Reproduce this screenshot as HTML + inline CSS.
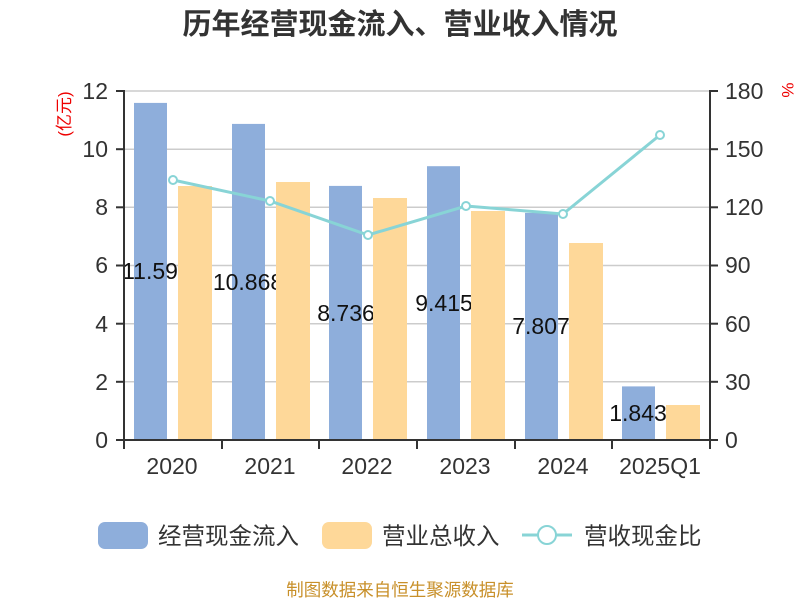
<!DOCTYPE html>
<html><head><meta charset="utf-8"><style>body{margin:0;background:#fff}svg{display:block}</style></head><body>
<svg width="800" height="600" xmlns="http://www.w3.org/2000/svg" font-family="Liberation Sans, Noto Sans CJK SC, sans-serif">
<rect width="800" height="600" fill="#fff"/>
<text x="400" y="34" text-anchor="middle" font-size="29" font-weight="bold" fill="#333">历年经营现金流入、营业收入情况</text>
<g stroke="#ccc" stroke-width="1.5">
<line x1="124" y1="91" x2="710" y2="91"/><line x1="124" y1="149.2" x2="710" y2="149.2"/><line x1="124" y1="207.3" x2="710" y2="207.3"/><line x1="124" y1="265.5" x2="710" y2="265.5"/><line x1="124" y1="323.7" x2="710" y2="323.7"/><line x1="124" y1="381.8" x2="710" y2="381.8"/>
</g>
<g fill="#8eaedb">
<rect x="134" y="102.9" width="33" height="337.1"/>
<rect x="232" y="123.9" width="33" height="316.1"/>
<rect x="329" y="185.9" width="33" height="254.1"/>
<rect x="427" y="166.2" width="33" height="273.8"/>
<rect x="525" y="212.9" width="33" height="227.1"/>
<rect x="622" y="386.4" width="33" height="53.6"/>
</g>
<g font-size="23" fill="#111" text-anchor="middle">
<text x="150" y="279">11.59</text><text x="248" y="290">10.868</text><text x="346" y="321">8.736</text><text x="444" y="311">9.415</text><text x="541" y="334">7.807</text><text x="638" y="421">1.843</text>
</g>
<g fill="#fed899">
<rect x="178" y="186" width="34" height="254"/>
<rect x="276" y="182" width="34" height="258"/>
<rect x="373" y="198" width="34" height="242"/>
<rect x="471" y="211" width="34" height="229"/>
<rect x="569" y="243" width="34" height="197"/>
<rect x="666" y="405" width="34" height="35"/>
</g>
<polyline points="173,180 270,201 368,235 466,206 563,214 660,135" fill="none" stroke="#88d4d6" stroke-width="3"/>
<g fill="#fff" stroke="#88d4d6" stroke-width="2">
<circle cx="173" cy="180" r="4"/><circle cx="270" cy="201" r="4"/><circle cx="368" cy="235" r="4"/><circle cx="466" cy="206" r="4"/><circle cx="563" cy="214" r="4"/><circle cx="660" cy="135" r="4"/>
</g>
<g stroke="#333" stroke-width="2">
<line x1="124" y1="90" x2="124" y2="440"/><line x1="710" y1="90" x2="710" y2="440"/><line x1="123" y1="440" x2="711" y2="440"/>
<line x1="116" y1="91" x2="124" y2="91"/><line x1="116" y1="149.2" x2="124" y2="149.2"/><line x1="116" y1="207.3" x2="124" y2="207.3"/><line x1="116" y1="265.5" x2="124" y2="265.5"/><line x1="116" y1="323.7" x2="124" y2="323.7"/><line x1="116" y1="381.8" x2="124" y2="381.8"/><line x1="116" y1="440" x2="124" y2="440"/>
<line x1="710" y1="91" x2="718" y2="91"/><line x1="710" y1="149.2" x2="718" y2="149.2"/><line x1="710" y1="207.3" x2="718" y2="207.3"/><line x1="710" y1="265.5" x2="718" y2="265.5"/><line x1="710" y1="323.7" x2="718" y2="323.7"/><line x1="710" y1="381.8" x2="718" y2="381.8"/><line x1="710" y1="440" x2="718" y2="440"/>
<line x1="124" y1="440" x2="124" y2="449"/><line x1="222" y1="440" x2="222" y2="449"/><line x1="319" y1="440" x2="319" y2="449"/><line x1="417" y1="440" x2="417" y2="449"/><line x1="515" y1="440" x2="515" y2="449"/><line x1="612" y1="440" x2="612" y2="449"/><line x1="710" y1="440" x2="710" y2="449"/>
</g>
<g font-size="23" fill="#333" text-anchor="end">
<text x="108" y="99">12</text><text x="108" y="157">10</text><text x="108" y="215">8</text><text x="108" y="273">6</text><text x="108" y="332">4</text><text x="108" y="390">2</text><text x="108" y="448">0</text>
</g>
<g font-size="23" fill="#333" text-anchor="start">
<text x="725" y="99">180</text><text x="725" y="157">150</text><text x="725" y="215">120</text><text x="725" y="273">90</text><text x="725" y="332">60</text><text x="725" y="390">30</text><text x="725" y="448">0</text>
</g>
<g font-size="23" fill="#333" text-anchor="middle">
<text x="172" y="474">2020</text><text x="270" y="474">2021</text><text x="367" y="474">2022</text><text x="465" y="474">2023</text><text x="563" y="474">2024</text><text x="660" y="474">2025Q1</text>
</g>
<text transform="translate(70,114) rotate(-90)" font-size="17" fill="#e00" text-anchor="middle">(亿元)</text>
<text transform="translate(782,90) rotate(90)" font-size="17" fill="#e00" text-anchor="middle">%</text>
<rect x="98" y="522" width="50" height="27" rx="7" fill="#8eaedb"/>
<text x="158" y="544" font-size="23.5" fill="#333">经营现金流入</text>
<rect x="322" y="522" width="50" height="27" rx="7" fill="#fed899"/>
<text x="382" y="544" font-size="23.5" fill="#333">营业总收入</text>
<line x1="522" y1="535" x2="572" y2="535" stroke="#88d4d6" stroke-width="3"/>
<circle cx="547" cy="535" r="9" fill="#fff" stroke="#88d4d6" stroke-width="2"/>
<text x="584" y="544" font-size="23.5" fill="#333">营收现金比</text>
<text x="400" y="596" font-size="17.5" fill="#c8902a" text-anchor="middle">制图数据来自恒生聚源数据库</text>
</svg>
</body></html>
